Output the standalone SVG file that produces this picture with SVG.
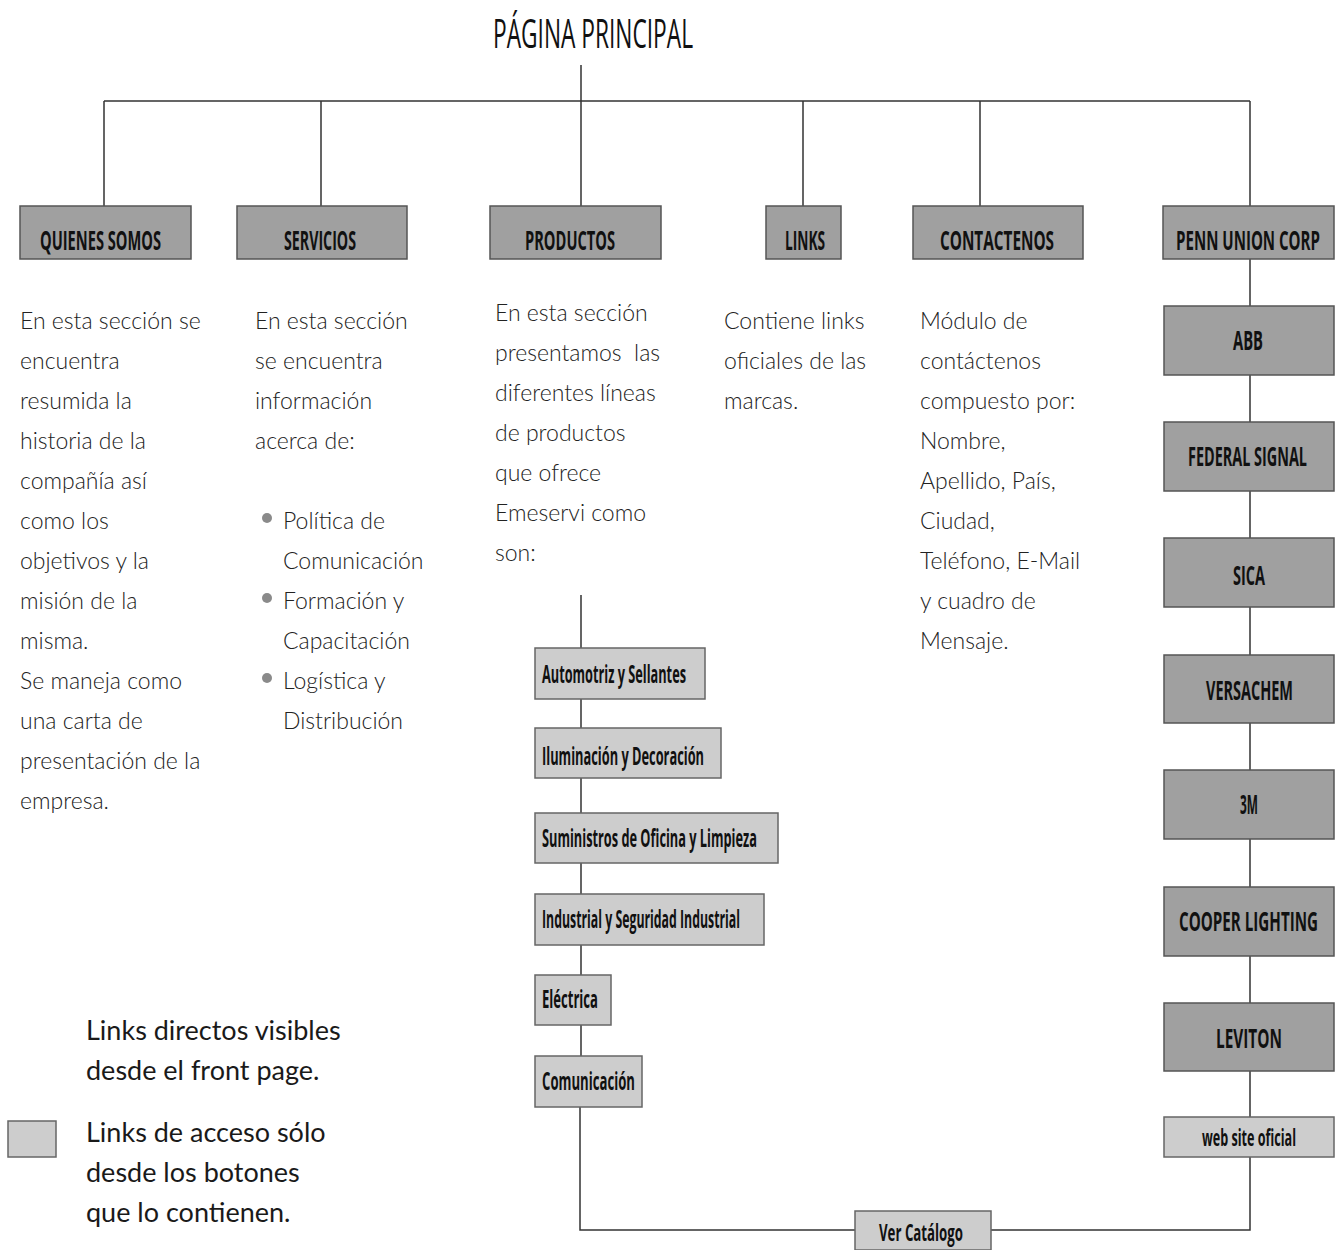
<svg xmlns="http://www.w3.org/2000/svg" width="1344" height="1250" viewBox="0 0 1344 1250">
<style>
.bg{fill:#ffffff}
.dk{fill:#a0a0a0;stroke:#555;stroke-width:1.5}
.lt{fill:#cdcdcd;stroke:#666;stroke-width:1.5}
.bl{font-family:"Open Sans","Liberation Sans",sans-serif;font-weight:700;fill:#111}
.f1{font-size:27px}
.f2{font-size:25px}
.f3{font-size:24px}
.body{font-family:Lato,"Open Sans",sans-serif;font-weight:300;font-size:23px;fill:#222}
.leg{font-family:Lato,"Open Sans",sans-serif;font-weight:400;font-size:27px;fill:#1a1a1a}
.ln{fill:none;stroke:#333;stroke-width:1.5}
.dot{fill:#8a8a8a}
</style>
<rect class="bg" x="0" y="0" width="1344" height="1250"/>
<text x="493" y="48" font-family="Open Sans, Liberation Sans, sans-serif" font-weight="400" font-size="40" fill="#111" textLength="200" lengthAdjust="spacingAndGlyphs">PÁGINA PRINCIPAL</text>

<g id="connectors">
<path class="ln" d="M581 65V101M104 101H1250M104 101V206M321 101V206M581 101V206M803 101V206M980 101V206M1250 101V206"/>
<path class="ln" d="M1250 259V1117M1250 1157V1230H991M855 1230H580V1107"/>
<path class="ln" d="M581 595V648M581 699V728M581 778V813M581 863V894M581 945V975M581 1025V1056"/>
</g>

<g id="quienes"><rect class="dk" x="20" y="206" width="171" height="53"/><text class="bl f1" transform="translate(40,250) scale(0.6,1)" textLength="201.7" lengthAdjust="spacingAndGlyphs">QUIENES SOMOS</text></g>
<g id="servicios"><rect class="dk" x="237" y="206" width="170" height="53"/><text class="bl f1" transform="translate(284,250) scale(0.6,1)" textLength="120" lengthAdjust="spacingAndGlyphs">SERVICIOS</text></g>
<g id="productos"><rect class="dk" x="490" y="206" width="171" height="53"/><text class="bl f1" transform="translate(525,250) scale(0.6,1)" textLength="150" lengthAdjust="spacingAndGlyphs">PRODUCTOS</text></g>
<g id="links"><rect class="dk" x="766" y="206" width="75" height="53"/><text class="bl f1" transform="translate(785,250) scale(0.6,1)" textLength="66.7" lengthAdjust="spacingAndGlyphs">LINKS</text></g>
<g id="contactenos"><rect class="dk" x="913" y="206" width="170" height="53"/><text class="bl f1" transform="translate(940,250) scale(0.6,1)" textLength="190" lengthAdjust="spacingAndGlyphs">CONTACTENOS</text></g>
<g id="penn"><rect class="dk" x="1163" y="206" width="171" height="53"/><text class="bl f1" transform="translate(1176,250) scale(0.6,1)" textLength="240" lengthAdjust="spacingAndGlyphs">PENN UNION CORP</text></g>

<g id="abb"><rect class="dk" x="1164" y="306" width="170" height="69"/><text class="bl f1" transform="translate(1233,350) scale(0.6,1)" textLength="50" lengthAdjust="spacingAndGlyphs">ABB</text></g>
<g id="federal"><rect class="dk" x="1164" y="422" width="170" height="69"/><text class="bl f1" transform="translate(1188,466) scale(0.6,1)" textLength="198.3" lengthAdjust="spacingAndGlyphs">FEDERAL SIGNAL</text></g>
<g id="sica"><rect class="dk" x="1164" y="538" width="170" height="69"/><text class="bl f1" transform="translate(1233,585) scale(0.6,1)" textLength="53.3" lengthAdjust="spacingAndGlyphs">SICA</text></g>
<g id="versachem"><rect class="dk" x="1164" y="655" width="170" height="68"/><text class="bl f1" transform="translate(1206,700) scale(0.6,1)" textLength="145" lengthAdjust="spacingAndGlyphs">VERSACHEM</text></g>
<g id="m3"><rect class="dk" x="1164" y="770" width="170" height="69"/><text class="bl f1" transform="translate(1240,814) scale(0.6,1)" textLength="30" lengthAdjust="spacingAndGlyphs">3M</text></g>
<g id="cooper"><rect class="dk" x="1164" y="887" width="170" height="69"/><text class="bl f1" transform="translate(1179,931) scale(0.6,1)" textLength="231.7" lengthAdjust="spacingAndGlyphs">COOPER LIGHTING</text></g>
<g id="leviton"><rect class="dk" x="1164" y="1003" width="170" height="68"/><text class="bl f1" transform="translate(1216,1048) scale(0.6,1)" textLength="110" lengthAdjust="spacingAndGlyphs">LEVITON</text></g>
<g id="website"><rect class="lt" x="1164" y="1117" width="170" height="40"/><text class="bl f3" transform="translate(1202,1146) scale(0.6,1)" textLength="156.7" lengthAdjust="spacingAndGlyphs">web site oficial</text></g>
<g id="catalogo"><rect class="lt" x="855" y="1211" width="136" height="39"/><text class="bl f3" transform="translate(879,1241) scale(0.6,1)" textLength="140" lengthAdjust="spacingAndGlyphs">Ver Catálogo</text></g>

<g id="automotriz"><rect class="lt" x="535" y="648" width="170" height="51"/><text class="bl f2" transform="translate(542,683) scale(0.6,1)" textLength="240" lengthAdjust="spacingAndGlyphs">Automotriz y Sellantes</text></g>
<g id="iluminacion"><rect class="lt" x="535" y="728" width="186" height="50"/><text class="bl f2" transform="translate(542,765) scale(0.6,1)" textLength="270" lengthAdjust="spacingAndGlyphs">Iluminación y Decoración</text></g>
<g id="suministros"><rect class="lt" x="535" y="813" width="243" height="50"/><text class="bl f2" transform="translate(542,847) scale(0.6,1)" textLength="358.3" lengthAdjust="spacingAndGlyphs">Suministros de Oficina y Limpieza</text></g>
<g id="industrial"><rect class="lt" x="535" y="894" width="229" height="51"/><text class="bl f2" transform="translate(542,928) scale(0.6,1)" textLength="330" lengthAdjust="spacingAndGlyphs">Industrial y Seguridad Industrial</text></g>
<g id="electrica"><rect class="lt" x="535" y="975" width="76" height="50"/><text class="bl f2" transform="translate(542,1008) scale(0.6,1)" textLength="93.3" lengthAdjust="spacingAndGlyphs">Eléctrica</text></g>
<g id="comunicacion"><rect class="lt" x="535" y="1056" width="107" height="51"/><text class="bl f2" transform="translate(542,1090) scale(0.6,1)" textLength="155" lengthAdjust="spacingAndGlyphs">Comunicación</text></g>

<g id="text-quienes" class="body">
<text x="20" y="329">En esta sección se</text>
<text x="20" y="369">encuentra</text>
<text x="20" y="409">resumida la</text>
<text x="20" y="449">historia de la</text>
<text x="20" y="489">compañía así</text>
<text x="20" y="529">como los</text>
<text x="20" y="569">objetivos y la</text>
<text x="20" y="609">misión de la</text>
<text x="20" y="649">misma.</text>
<text x="20" y="689">Se maneja como</text>
<text x="20" y="729">una carta de</text>
<text x="20" y="769">presentación de la</text>
<text x="20" y="809">empresa.</text>
</g>
<g id="text-servicios" class="body">
<text x="255" y="329">En esta sección</text>
<text x="255" y="369">se encuentra</text>
<text x="255" y="409">información</text>
<text x="255" y="449">acerca de:</text>
<circle class="dot" cx="267" cy="518" r="5"/>
<text x="283" y="529">Política de</text>
<text x="283" y="569">Comunicación</text>
<circle class="dot" cx="267" cy="598" r="5"/>
<text x="283" y="609">Formación y</text>
<text x="283" y="649">Capacitación</text>
<circle class="dot" cx="267" cy="678" r="5"/>
<text x="283" y="689">Logística y</text>
<text x="283" y="729">Distribución</text>
</g>
<g id="text-productos" class="body">
<text x="495" y="321">En esta sección</text>
<text x="495" y="361" xml:space="preserve">presentamos  las</text>
<text x="495" y="401">diferentes líneas</text>
<text x="495" y="441">de productos</text>
<text x="495" y="481">que ofrece</text>
<text x="495" y="521">Emeservi como</text>
<text x="495" y="561">son:</text>
</g>
<g id="text-links" class="body">
<text x="724" y="329">Contiene links</text>
<text x="724" y="369">oficiales de las</text>
<text x="724" y="409">marcas.</text>
</g>
<g id="text-contactenos" class="body">
<text x="920" y="329">Módulo de</text>
<text x="920" y="369">contáctenos</text>
<text x="920" y="409">compuesto por:</text>
<text x="920" y="449">Nombre,</text>
<text x="920" y="489">Apellido, País,</text>
<text x="920" y="529">Ciudad,</text>
<text x="920" y="569">Teléfono, E-Mail</text>
<text x="920" y="609">y cuadro de</text>
<text x="920" y="649">Mensaje.</text>
</g>

<g id="legend" class="leg">
<text x="86" y="1040">Links directos visibles</text>
<text x="86" y="1080">desde el front page.</text>
<rect class="lt" x="8" y="1121" width="48" height="36"/>
<text x="86" y="1142">Links de acceso sólo</text>
<text x="86" y="1182">desde los botones</text>
<text x="86" y="1222">que lo contienen.</text>
</g>
</svg>
